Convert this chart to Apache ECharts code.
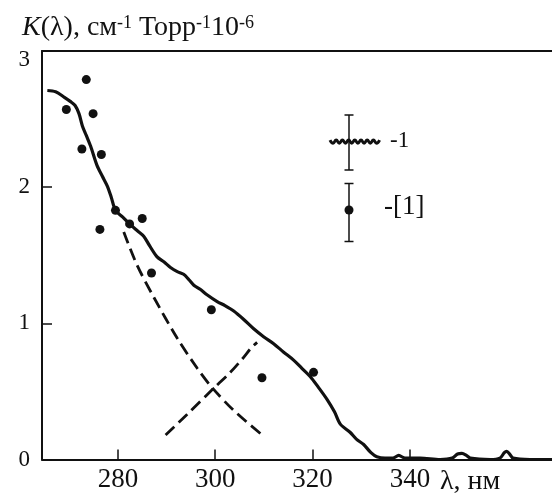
<!DOCTYPE html>
<html><head><meta charset="utf-8">
<script src="https://cdn.jsdelivr.net/npm/echarts@6/dist/echarts.min.js"></script>
<style>html,body{margin:0;padding:0;background:#fff}#c{width:552px;height:494px}</style>
</head><body><div id="c"></div>
<script>
// Solid curve K(λ) (label "-1")
const curveLambda = [265.5,267.2,269.0,270.2,271.2,272.0,272.7,273.5,274.4,275.7,276.8,277.8,278.6,279.5,281.0,282.4,284.0,285.3,286.5,288.0,289.5,290.8,292.2,293.5,294.6,295.6,296.9,298.3,300.4,302.0,303.8,305.8,307.9,310.0,312.0,314.0,316.1,317.8,319.5,321.2,323.0,324.5,325.7,327.7,329.0,330.5,332.0,333.2,334.9,336.5,337.7,339.0,342.1,346.2,348.7,349.8,350.7,351.6,352.4,356.5,358.5,359.4,359.9,360.5,361.2,364.7,369.2];
const curveK      = [2.71,2.70,2.66,2.63,2.60,2.54,2.45,2.38,2.30,2.16,2.08,2.01,1.93,1.83,1.78,1.73,1.68,1.64,1.57,1.49,1.45,1.41,1.38,1.36,1.32,1.28,1.25,1.21,1.16,1.13,1.09,1.03,0.96,0.90,0.85,0.79,0.73,0.67,0.61,0.53,0.44,0.35,0.26,0.20,0.15,0.11,0.05,0.02,0.01,0.01,0.03,0.01,0.01,0.00,0.01,0.04,0.045,0.03,0.01,0.00,0.01,0.05,0.06,0.04,0.01,0.00,0.00];
// Points "[1]"
const dotLambda = [269.4,272.6,273.5,274.9,276.3,276.6,279.5,282.4,285.0,286.9,299.2,309.6,320.2];
const dotK      = [2.57,2.28,2.79,2.54,1.69,2.24,1.83,1.73,1.77,1.37,1.10,0.60,0.64];
// Dashed decomposition curves
const dashALambda = [281.2,283.9,287.4,292.2,296.3,299.3,303.8,309.3];
const dashAK      = [1.67,1.43,1.19,0.89,0.67,0.53,0.36,0.19];
const dashBLambda = [289.8,294.2,299.3,303.1,305.6,307.4,308.6];
const dashBK      = [0.18,0.33,0.51,0.64,0.74,0.82,0.86];
// Axis ticks
const xTicks = [280,300,320,340];
const yTicks = [0,1,2,3];

const serif = '"Liberation Serif","Times New Roman",serif';
const zip = (a,b) => a.map((v,i)=>[v,b[i]]);

// wavy legend glyph
const wave = [];
for (let i = 0; i <= 16; i++) wave.push([330 + i*3.1, 141.7 + (i%2 ? 1.6 : -1.6)]);

const chart = echarts.init(document.getElementById('c'));
chart.setOption({
  animation: false,
  backgroundColor: '#fff',
  grid: {left: 42, right: 0, top: 51, bottom: 34.5, containLabel: false},
  xAxis: [{
    type: 'value', min: 264.4, max: 369.2,
    axisLine: {lineStyle: {color: '#111', width: 2}},
    axisTick: {inside: true, length: 10, customValues: xTicks, lineStyle: {color: '#111', width: 1.5}},
    axisLabel: {customValues: xTicks, color: '#111', fontFamily: serif, fontSize: 27, margin: 7},
    splitLine: {show: false}
  },{
    type: 'value', position: 'top', min: 264.4, max: 369.2,
    axisLine: {show: true, lineStyle: {color: '#111', width: 2}},
    axisTick: {show: false}, axisLabel: {show: false}, splitLine: {show: false}
  }],
  yAxis: {
    type: 'value', min: 0, max: 3, interval: 1,
    axisLine: {show: true, lineStyle: {color: '#111', width: 2}},
    axisTick: {show: true, inside: true, length: 10, lineStyle: {color: '#111', width: 1.5}},
    axisLabel: {color: '#111', fontFamily: serif, fontSize: 23, margin: 12,
      formatter: v => v === 3 ? '{t|3}' : (yTicks.includes(v) ? '{n|' + v + '}' : ''),
      rich: {
        t: {fontFamily: serif, fontSize: 23, color: '#111', padding: [18, 0, 0, 0]},
        n: {fontFamily: serif, fontSize: 23, color: '#111'}
      }},
    splitLine: {show: false}
  },
  series: [
    {type: 'line', data: zip(curveLambda, curveK), showSymbol: false, smooth: 0.3,
      lineStyle: {color: '#111', width: 3.2}},
    {type: 'line', data: zip(dashALambda, dashAK), showSymbol: false, smooth: 0.3,
      lineStyle: {color: '#111', width: 2.8, type: [12, 6]}},
    {type: 'line', data: zip(dashBLambda, dashBK), showSymbol: false, smooth: 0.3,
      lineStyle: {color: '#111', width: 2.8, type: [12, 6]}},
    {type: 'scatter', data: zip(dotLambda, dotK), symbolSize: 9, itemStyle: {color: '#111', opacity: 1}}
  ],
  graphic: [
    {type: 'text', left: 22, top: 14, style: {
      text: '{k|K}(λ), см{s|-1} Торр{s|-1}10{s|-6}',
      font: '28px ' + serif, fill: '#111',
      rich: {
        k: {fontStyle: 'italic', fontSize: 28, fontFamily: serif, fill: '#111'},
        s: {fontSize: 18, fontFamily: serif, verticalAlign: 'top', fill: '#111'}
      }
    }},
    {type: 'text', left: 440, top: 468, style: {text: 'λ, нм', font: '28px ' + serif, fill: '#111'}},
    // legend: curve 1
    {type: 'polyline', shape: {points: wave, smooth: 0.5}, style: {stroke: '#111', lineWidth: 3, fill: null}},
    {type: 'line', shape: {x1: 349, y1: 115, x2: 349, y2: 170}, style: {stroke: '#111', lineWidth: 1.5}},
    {type: 'line', shape: {x1: 344.5, y1: 115, x2: 353.5, y2: 115}, style: {stroke: '#111', lineWidth: 1.5}},
    {type: 'line', shape: {x1: 344.5, y1: 170, x2: 353.5, y2: 170}, style: {stroke: '#111', lineWidth: 1.5}},
    {type: 'text', left: 390, top: 129, style: {text: '-1', font: '23px ' + serif, fill: '#111'}},
    // legend: points [1]
    {type: 'line', shape: {x1: 349, y1: 183.5, x2: 349, y2: 241.5}, style: {stroke: '#111', lineWidth: 1.5}},
    {type: 'line', shape: {x1: 344.5, y1: 183.5, x2: 353.5, y2: 183.5}, style: {stroke: '#111', lineWidth: 1.5}},
    {type: 'line', shape: {x1: 344.5, y1: 241.5, x2: 353.5, y2: 241.5}, style: {stroke: '#111', lineWidth: 1.5}},
    {type: 'circle', shape: {cx: 349, cy: 210, r: 4.5}, style: {fill: '#111'}},
    {type: 'text', left: 384, top: 193, style: {text: '-[1]', font: '27px ' + serif, fill: '#111'}}
  ]
});
</script>
</body></html>
